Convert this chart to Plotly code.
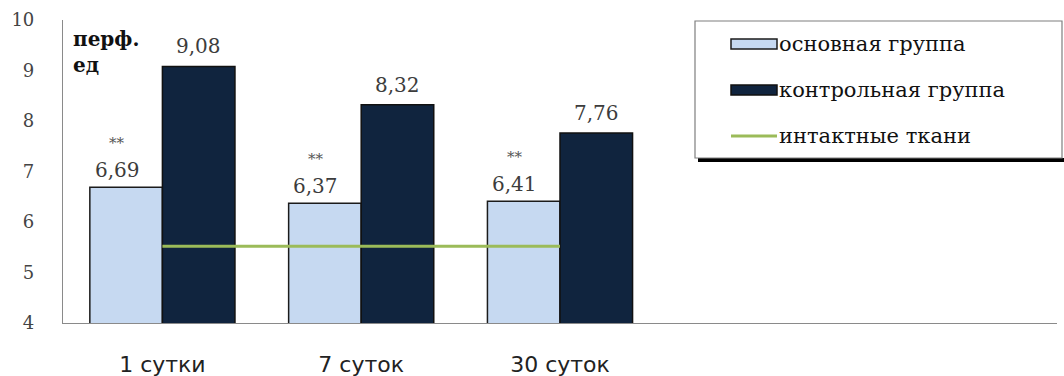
import plotly.graph_objects as go

# Data
categories = ["1 сутки", "7 суток", "30 суток"]
main_group = [6.69, 6.37, 6.41]
control_group = [9.08, 8.32, 7.76]
intact_level = [5.52, 5.52, 5.52]
series_names = ["основная группа", "контрольная группа", "интактные ткани"]
significance = ["**", "**", "**"]
y_ticks = [4, 5, 6, 7, 8, 9, 10]
unit_label = "перф.<br>ед"

light_blue = "#c6d9f1"
dark_navy = "#10243e"
olive_green = "#9bbb59"

W, H = 1064, 376
ML, MR, MT, MB = 63, 7, 20, 53
BARGAP = 0.27
SLOTS = 5  # category slots on the x axis (extra room on the right)

x_pos = list(range(len(categories)))

fig = go.Figure()
fig.add_trace(go.Bar(
    x=x_pos, y=main_group, name=series_names[0],
    marker=dict(color=light_blue, line=dict(color="#1b1b1b", width=1.5)),
))
fig.add_trace(go.Bar(
    x=x_pos, y=control_group, name=series_names[1],
    marker=dict(color=dark_navy, line=dict(color="#111111", width=1.5)),
))
fig.add_trace(go.Scatter(
    x=x_pos, y=intact_level, name=series_names[2], mode="lines",
    line=dict(color=olive_green, width=3),
))

# value labels above the bars
bar_w = (1 - BARGAP) / 2
label_font = dict(family="DejaVu Serif", size=20, color="#3c3c3c")
for i, (a, b) in enumerate(zip(main_group, control_group)):
    fig.add_annotation(x=i - bar_w / 2, y=a, xref="x", yref="y",
                       text=f"{a:.2f}".replace(".", ","), showarrow=False,
                       yanchor="bottom", yshift=3, xshift=-9, font=label_font)
    fig.add_annotation(x=i - bar_w / 2, y=a, xref="x", yref="y",
                       text=significance[i], showarrow=False,
                       yanchor="bottom", yshift=33, xshift=-9,
                       font=dict(family="DejaVu Serif", size=15, color="#555555"))
    fig.add_annotation(x=i + bar_w / 2, y=b, xref="x", yref="y",
                       text=f"{b:.2f}".replace(".", ","), showarrow=False,
                       yanchor="bottom", yshift=6, font=label_font)

# unit label in the top-left corner of the plot
fig.add_annotation(x=0.008, y=0.985, xref="paper", yref="paper",
                   text=unit_label, showarrow=False, xanchor="left", yanchor="top",
                   align="left",
                   font=dict(family="DejaVu Serif", size=20, color="#111111", weight="bold"))

# legend box drawn in paper coordinates
pw, ph = W - ML - MR, H - MT - MB
def px(x):
    return (x - ML) / pw
def py(y):
    return (H - MB - y) / ph

shapes = []
shapes.append(dict(type="line", xref="paper", yref="paper",
                   x0=px(698), x1=px(1066), y0=py(160), y1=py(160),
                   line=dict(color="#000000", width=4)))
shapes.append(dict(type="rect", xref="paper", yref="paper",
                   x0=px(695), x1=px(1062), y0=py(158), y1=py(21),
                   fillcolor="white", line=dict(color="#7f7f7f", width=1.2)))
row_y = [44, 90, 136]
swatch = [(light_blue, "#1b1b1b"), (dark_navy, "#111111")]
for k in range(2):
    fill, edge = swatch[k]
    shapes.append(dict(type="rect", xref="paper", yref="paper",
                       x0=px(731), x1=px(777), y0=py(row_y[k] + 5), y1=py(row_y[k] - 5),
                       fillcolor=fill, line=dict(color=edge, width=1.5)))
shapes.append(dict(type="line", xref="paper", yref="paper",
                   x0=px(731), x1=px(777), y0=py(row_y[2]), y1=py(row_y[2]),
                   line=dict(color=olive_green, width=3)))
for k, name in enumerate(series_names):
    fig.add_annotation(x=px(777), y=py(row_y[k]), xref="paper", yref="paper",
                       text=name, showarrow=False, xanchor="left", yanchor="middle",
                       font=dict(family="DejaVu Serif", size=21, color="#111111"))

fig.update_layout(
    width=W, height=H,
    margin=dict(l=ML, r=MR, t=MT, b=MB, pad=0),
    paper_bgcolor="white", plot_bgcolor="white",
    barmode="group", bargap=BARGAP, bargroupgap=0,
    showlegend=False,
    shapes=shapes,
    xaxis=dict(
        range=[-0.5, SLOTS - 0.5], tickvals=x_pos, ticktext=categories,
        showgrid=False, zeroline=False, showline=True, linecolor="#8a8a8a",
        linewidth=1.2, ticks="", ticklabelstandoff=21, automargin=False,
        tickfont=dict(family="DejaVu Sans", size=22, color="#222222"),
    ),
    yaxis=dict(
        range=[4, 10], tickvals=y_ticks, showgrid=False, zeroline=False,
        showline=True, linecolor="#8a8a8a", linewidth=1.2, ticks="",
        ticklabelstandoff=24, automargin=False,
        tickfont=dict(family="DejaVu Serif", size=18, color="#444444"),
    ),
)

fig.write_html("out.html")
